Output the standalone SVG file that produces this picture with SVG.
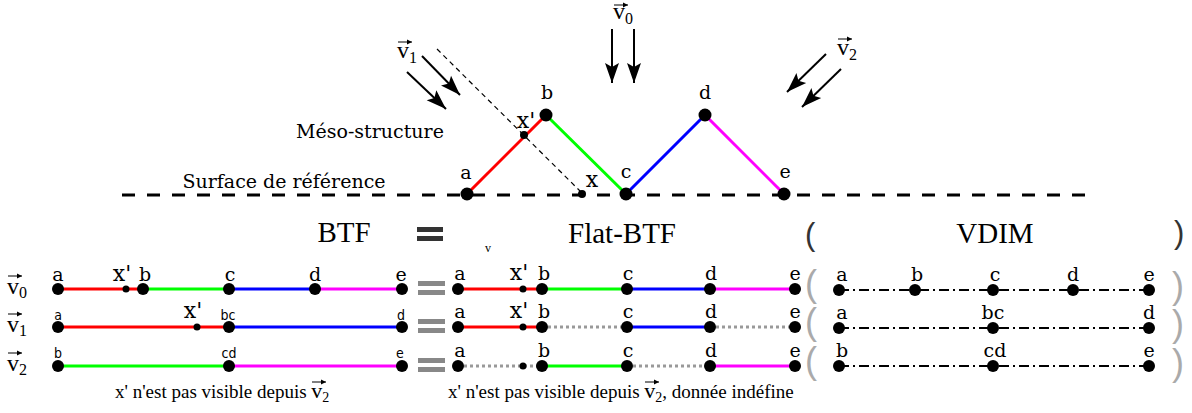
<svg xmlns="http://www.w3.org/2000/svg" width="1192" height="413" viewBox="0 0 1192 413">
<defs>
<marker id="ah" markerUnits="userSpaceOnUse" markerWidth="22" markerHeight="16" viewBox="0 0 22 16" refX="20" refY="8" orient="auto"><path d="M0,1 L20,8 L0,15 L4,8 z" fill="#000"/></marker>
<marker id="vh" markerUnits="userSpaceOnUse" markerWidth="6" markerHeight="6" viewBox="0 0 6 6" refX="5" refY="3" orient="auto"><path d="M0,0.5 L5,3 L0,5.5 z" fill="#000"/></marker>
</defs>
<style>
.lbl{font-family:"DejaVu Serif",serif;font-size:19px;text-anchor:middle;fill:#000}
.xl{font-family:"DejaVu Serif",serif;font-size:22px;text-anchor:middle;fill:#000}
.slbl{font-family:"DejaVu Sans Condensed","DejaVu Sans",sans-serif;font-size:14px;text-anchor:middle;fill:#000}
.times{font-family:"Liberation Serif","Times New Roman",serif;fill:#000}
.big{font-family:"Liberation Serif","Times New Roman",serif;font-size:29px;text-anchor:middle;fill:#000}
.vec{font-family:"Liberation Serif","Times New Roman",serif;font-size:24px;fill:#000}
.sub{font-size:16px}
.va{stroke:#000;stroke-width:1;fill:none;marker-end:url(#vh)}
.dot{fill:#000}
.seg{stroke-width:3;fill:none}
.r{stroke:#f00}.g{stroke:#0f0}.b{stroke:#00f}.m{stroke:#f0f}
.gd{stroke:#999;stroke-dasharray:3 3}
.dd{stroke:#000;stroke-width:2;stroke-dasharray:10 4 2 4;fill:none}
.arr{stroke:#000;stroke-width:2;fill:none;marker-end:url(#ah)}
.pg{font-family:"Liberation Sans",sans-serif;font-size:36px;fill:#aaa}
.pd{font-family:"Liberation Sans",sans-serif;font-size:31px;fill:#333}
</style>

<!-- connectors -->
<g id="connectors">
  <line x1="122" y1="195" x2="1095" y2="195" stroke="#000" stroke-width="3" stroke-dasharray="13 12"/>
  <line x1="437" y1="49" x2="582" y2="193" stroke="#000" stroke-width="1.2" stroke-dasharray="5 4"/>
  <line class="seg r" x1="467" y1="194" x2="546" y2="115"/>
  <line class="seg g" x1="546" y1="115" x2="626" y2="194"/>
  <line class="seg b" x1="626" y1="194" x2="705" y2="115"/>
  <line class="seg m" x1="705" y1="115" x2="784" y2="194"/>
  <line class="arr" x1="612" y1="29" x2="612" y2="83"/>
  <line class="arr" x1="634" y1="29" x2="634" y2="83"/>
  <line class="arr" x1="422" y1="56" x2="460" y2="95"/>
  <line class="arr" x1="407" y1="72" x2="446" y2="109"/>
  <line class="arr" x1="826" y1="54" x2="787" y2="92"/>
  <line class="arr" x1="841" y1="69" x2="802" y2="107"/>
  <!-- BTF rows -->
  <line class="seg r" x1="58" y1="289" x2="143" y2="289"/>
  <line class="seg g" x1="143" y1="289" x2="229" y2="289"/>
  <line class="seg b" x1="229" y1="289" x2="315" y2="289"/>
  <line class="seg m" x1="315" y1="289" x2="402" y2="289"/>
  <line class="seg r" x1="58" y1="327" x2="229" y2="327"/>
  <line class="seg b" x1="229" y1="327" x2="402" y2="327"/>
  <line class="seg g" x1="58" y1="366" x2="229" y2="366"/>
  <line class="seg m" x1="229" y1="366" x2="402" y2="366"/>
  <!-- Flat-BTF rows -->
  <line class="seg r" x1="458" y1="289" x2="542" y2="289"/>
  <line class="seg g" x1="542" y1="289" x2="627" y2="289"/>
  <line class="seg b" x1="627" y1="289" x2="710" y2="289"/>
  <line class="seg m" x1="710" y1="289" x2="795" y2="289"/>
  <line class="seg r" x1="458" y1="327" x2="542" y2="327"/>
  <line class="seg gd" x1="542" y1="327" x2="627" y2="327"/>
  <line class="seg b" x1="627" y1="327" x2="710" y2="327"/>
  <line class="seg gd" x1="710" y1="327" x2="795" y2="327"/>
  <line class="seg gd" x1="458" y1="366" x2="542" y2="366"/>
  <line class="seg g" x1="542" y1="366" x2="627" y2="366"/>
  <line class="seg gd" x1="627" y1="366" x2="710" y2="366"/>
  <line class="seg m" x1="710" y1="366" x2="795" y2="366"/>
  <!-- VDIM rows -->
  <line class="dd" x1="839" y1="290" x2="1149" y2="290"/>
  <line class="dd" x1="839" y1="328" x2="1149" y2="328"/>
  <line class="dd" x1="839" y1="366" x2="1149" y2="366"/>
</g>

<!-- top structure nodes -->
<g id="node-a"><circle class="dot" cx="467" cy="194" r="6.5"/><text class="lbl" x="466" y="179">a</text></g>
<g id="node-b"><circle class="dot" cx="546" cy="115" r="6.5"/><text class="lbl" x="547" y="99">b</text></g>
<g id="node-c"><circle class="dot" cx="626" cy="194" r="6.5"/><text class="lbl" x="626" y="178">c</text></g>
<g id="node-d"><circle class="dot" cx="705" cy="115" r="6.5"/><text class="lbl" x="705" y="99">d</text></g>
<g id="node-e"><circle class="dot" cx="784" cy="194" r="6.5"/><text class="lbl" x="785" y="178">e</text></g>
<g id="node-xp"><circle class="dot" cx="524" cy="135" r="4"/><text class="xl" x="526" y="128">x'</text></g>
<g id="node-x"><circle class="dot" cx="582" cy="194" r="4"/><text class="xl" x="592" y="187">x</text></g>

<g id="labels-top">
  <text class="lbl" x="370" y="138">Méso-structure</text>
  <text class="lbl" x="284" y="188">Surface de référence</text>
  <text class="vec" x="613" y="19">v<tspan class="sub" dy="5">0</tspan></text>
  <line class="va" x1="614" y1="5" x2="628" y2="5"/>
  <text class="vec" x="397" y="58">v<tspan class="sub" dy="5">1</tspan></text>
  <line class="va" x1="398" y1="42" x2="412" y2="42"/>
  <text class="vec" x="837" y="55">v<tspan class="sub" dy="5">2</tspan></text>
  <line class="va" x1="838" y1="39" x2="852" y2="39"/>
</g>

<g id="headers">
  <text class="big" x="344" y="242">BTF</text>
  <rect x="417" y="227" width="26" height="5" fill="#333"/>
  <rect x="417" y="236" width="26" height="5" fill="#333"/>
  <text class="times" x="488" y="252" font-size="12" text-anchor="middle">v</text>
  <text class="big" x="622" y="243">Flat-BTF</text>
  <text class="pd" x="805" y="245">(</text>
  <text class="big" x="995" y="243">VDIM</text>
  <text class="pd" x="1174" y="243">)</text>
</g>

<g id="row-labels">
  <text class="vec" x="7" y="294">v<tspan class="sub" dy="4">0</tspan></text>
  <line class="va" x1="8" y1="276" x2="22" y2="276"/>
  <text class="vec" x="7" y="332">v<tspan class="sub" dy="4">1</tspan></text>
  <line class="va" x1="8" y1="314" x2="22" y2="314"/>
  <text class="vec" x="7" y="371">v<tspan class="sub" dy="4">2</tspan></text>
  <line class="va" x1="8" y1="353" x2="22" y2="353"/>
</g>

<g id="btf-row0">
  <circle class="dot" cx="58" cy="289" r="6"/><circle class="dot" cx="126" cy="289" r="3.5"/><circle class="dot" cx="143" cy="289" r="6"/><circle class="dot" cx="229" cy="289" r="6"/><circle class="dot" cx="315" cy="289" r="6"/><circle class="dot" cx="402" cy="289" r="6"/>
  <text class="lbl" x="58" y="281">a</text><text class="xl" x="122" y="281">x'</text><text class="lbl" x="145" y="281">b</text><text class="lbl" x="230" y="281">c</text><text class="lbl" x="315" y="281">d</text><text class="lbl" x="401" y="281">e</text>
</g>
<g id="btf-row1">
  <circle class="dot" cx="58" cy="327" r="6"/><circle class="dot" cx="197" cy="327" r="3.5"/><circle class="dot" cx="229" cy="327" r="6"/><circle class="dot" cx="402" cy="327" r="6"/>
  <text class="slbl" x="58" y="320">a</text><text class="xl" x="193" y="318">x'</text><text class="slbl" x="228" y="320">bc</text><text class="slbl" x="401" y="320">d</text>
</g>
<g id="btf-row2">
  <circle class="dot" cx="58" cy="366" r="6"/><circle class="dot" cx="229" cy="366" r="6"/><circle class="dot" cx="402" cy="366" r="6"/>
  <text class="slbl" x="58" y="358">b</text><text class="slbl" x="229" y="358">cd</text><text class="slbl" x="400" y="358">e</text>
</g>

<g id="equals">
  <rect x="418" y="281" width="27" height="5" fill="#888"/><rect x="418" y="290" width="27" height="5" fill="#888"/>
  <rect x="418" y="319" width="27" height="5" fill="#888"/><rect x="418" y="328" width="27" height="5" fill="#888"/>
  <rect x="418" y="358" width="27" height="5" fill="#888"/><rect x="418" y="367" width="27" height="5" fill="#888"/>
</g>

<g id="flat-row0">
  <circle class="dot" cx="458" cy="289" r="6"/><circle class="dot" cx="523" cy="289" r="3.5"/><circle class="dot" cx="542" cy="289" r="6"/><circle class="dot" cx="627" cy="289" r="6"/><circle class="dot" cx="710" cy="289" r="6"/><circle class="dot" cx="795" cy="289" r="6"/>
  <text class="lbl" x="460" y="280">a</text><text class="xl" x="519" y="280">x'</text><text class="lbl" x="544" y="280">b</text><text class="lbl" x="628" y="280">c</text><text class="lbl" x="711" y="280">d</text><text class="lbl" x="795" y="280">e</text>
</g>
<g id="flat-row1">
  <circle class="dot" cx="458" cy="327" r="6"/><circle class="dot" cx="523" cy="327" r="3.5"/><circle class="dot" cx="542" cy="327" r="6"/><circle class="dot" cx="627" cy="327" r="6"/><circle class="dot" cx="710" cy="327" r="6"/><circle class="dot" cx="795" cy="327" r="6"/>
  <text class="lbl" x="460" y="318">a</text><text class="xl" x="519" y="318">x'</text><text class="lbl" x="544" y="318">b</text><text class="lbl" x="628" y="318">c</text><text class="lbl" x="711" y="318">d</text><text class="lbl" x="795" y="318">e</text>
</g>
<g id="flat-row2">
  <circle class="dot" cx="458" cy="366" r="6"/><circle class="dot" cx="523" cy="366" r="3.5"/><circle class="dot" cx="542" cy="366" r="6"/><circle class="dot" cx="627" cy="366" r="6"/><circle class="dot" cx="710" cy="366" r="6"/><circle class="dot" cx="795" cy="366" r="6"/>
  <text class="lbl" x="460" y="357">a</text><text class="lbl" x="544" y="357">b</text><text class="lbl" x="628" y="357">c</text><text class="lbl" x="711" y="357">d</text><text class="lbl" x="795" y="357">e</text>
</g>

<g id="parens">
  <text class="pg" x="805" y="296">(</text><text class="pg" x="805" y="334">(</text><text class="pg" x="805" y="373">(</text>
  <text class="pg" x="1172" y="298">)</text><text class="pg" x="1172" y="336">)</text><text class="pg" x="1172" y="375">)</text>
</g>

<g id="vdim-row0">
  <circle class="dot" cx="839" cy="290" r="6"/><circle class="dot" cx="915" cy="290" r="6"/><circle class="dot" cx="993" cy="290" r="6"/><circle class="dot" cx="1073" cy="290" r="6"/><circle class="dot" cx="1149" cy="290" r="6"/>
  <text class="lbl" x="842" y="281">a</text><text class="lbl" x="917" y="281">b</text><text class="lbl" x="995" y="281">c</text><text class="lbl" x="1073" y="281">d</text><text class="lbl" x="1149" y="281">e</text>
</g>
<g id="vdim-row1">
  <circle class="dot" cx="839" cy="328" r="6"/><circle class="dot" cx="993" cy="328" r="6"/><circle class="dot" cx="1149" cy="328" r="6"/>
  <text class="lbl" x="842" y="319">a</text><text class="lbl" x="993" y="319">bc</text><text class="lbl" x="1149" y="319">d</text>
</g>
<g id="vdim-row2">
  <circle class="dot" cx="839" cy="366" r="6"/><circle class="dot" cx="993" cy="366" r="6"/><circle class="dot" cx="1149" cy="366" r="6"/>
  <text class="lbl" x="842" y="357">b</text><text class="lbl" x="995" y="357">cd</text><text class="lbl" x="1149" y="357">e</text>
</g>

<g id="captions">
  <text class="times" x="115" y="398" font-size="19">x' n'est pas visible depuis <tspan font-size="22">v</tspan><tspan font-size="14" dy="4">2</tspan></text>
  <line class="va" x1="312" y1="382" x2="326" y2="382"/>
  <text class="times" x="448" y="398" font-size="19">x' n'est pas visible depuis <tspan font-size="22">v</tspan><tspan font-size="14" dy="4">2</tspan><tspan dy="-4">, donnée indéfine</tspan></text>
  <line class="va" x1="645" y1="382" x2="659" y2="382"/>
</g>
</svg>
